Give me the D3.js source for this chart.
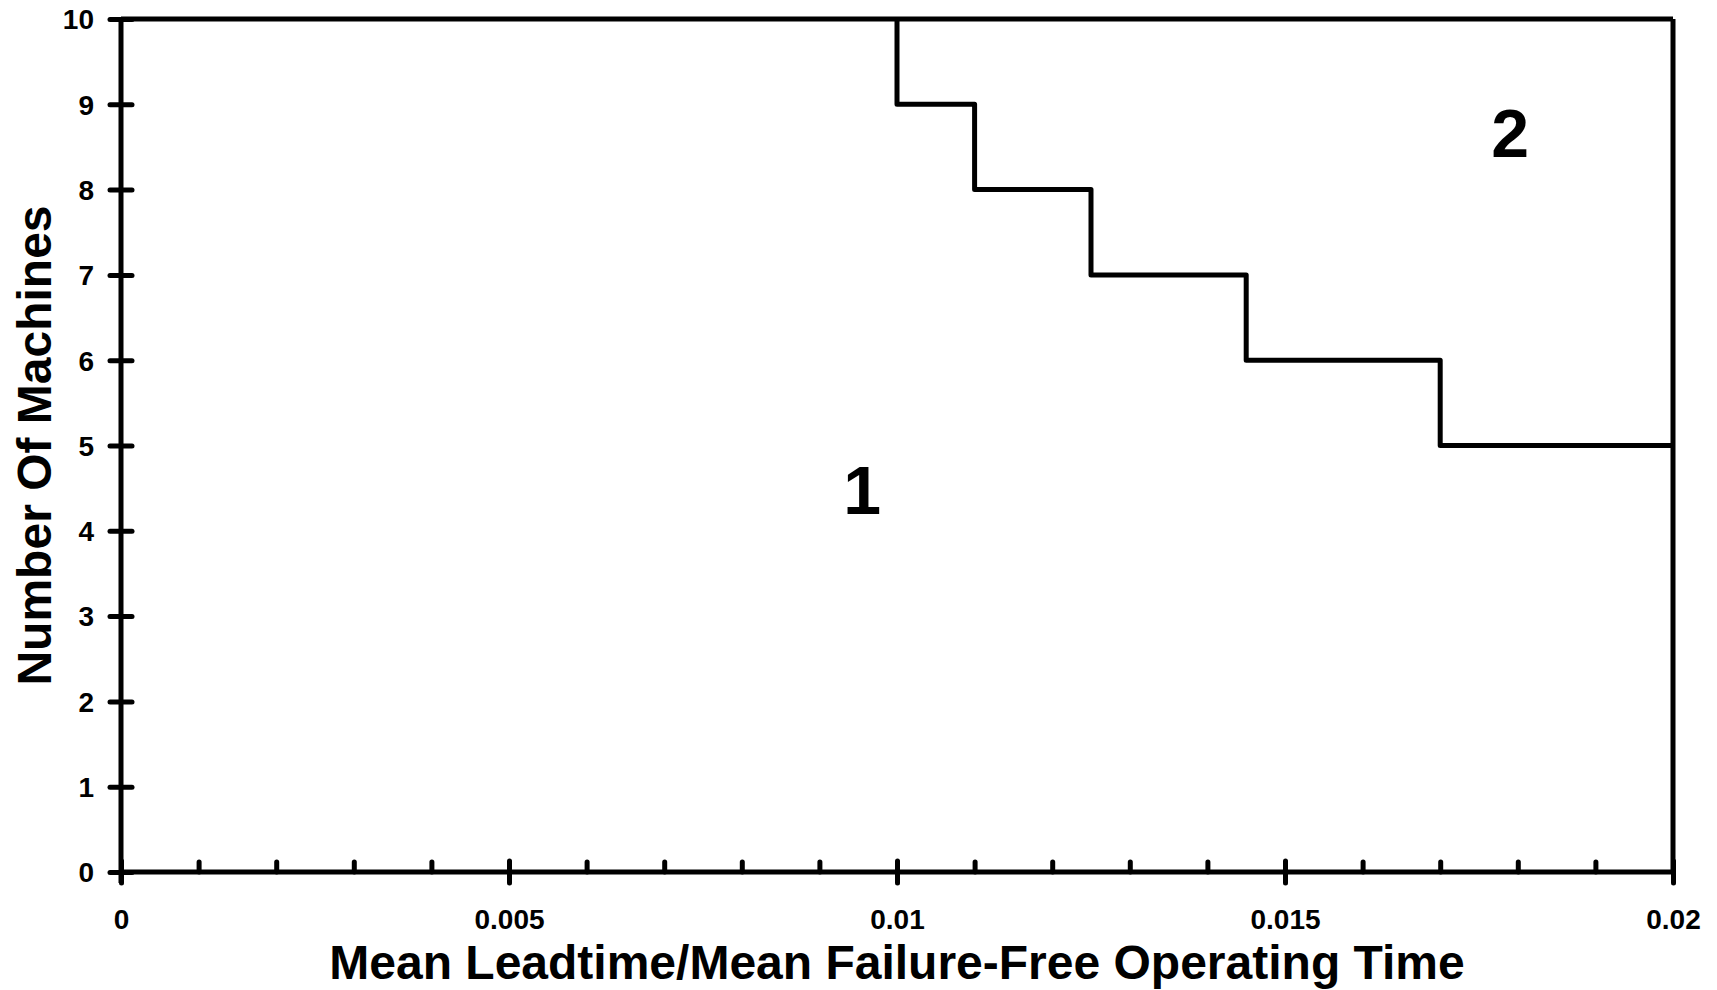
<!DOCTYPE html>
<html>
<head>
<meta charset="utf-8">
<script src="https://cdn.jsdelivr.net/npm/d3@7"></script>
<style>
  body { margin: 0; background: #fff; }
  text { font-family: "Liberation Sans", Arial, sans-serif; font-weight: bold; fill: #000; }
</style>
</head>
<body>
<div class="chart"></div>
<script>
// boundary between region 1 and region 2 (step line)
var boundaryX = [0.01, 0.011, 0.0125, 0.0145, 0.017, 0.02];
var boundaryY = [10, 9, 8, 7, 6, 5];

// tick values
var xMajorTicks = [0, 0.005, 0.01, 0.015, 0.02];
var xMinorTicks = [0.001, 0.002, 0.003, 0.004, 0.006, 0.007, 0.008, 0.009,
                   0.011, 0.012, 0.013, 0.014, 0.016, 0.017, 0.018, 0.019];
var yTicks = [0, 1, 2, 3, 4, 5, 6, 7, 8, 9, 10];

// region labels
var regionNames = ["1", "2"];
var regionX = [0.00955, 0.0179];
var regionY = [4.48, 8.67];

var svgWidth = 1717,
    svgHeight = 990,
    margin = {top: 19, right: 44, bottom: 118, left: 121},
    width = svgWidth - margin.left - margin.right,
    height = svgHeight - margin.top - margin.bottom;

var svg = d3.select(".chart")
    .append("svg")
    .attr("width", svgWidth)
    .attr("height", svgHeight)
    .append("g")
    .attr("transform", "translate(" + margin.left + "," + margin.top + ")");

var x = d3.scaleLinear().domain([0, 0.02]).range([0, width]);
var y = d3.scaleLinear().domain([0, 10]).range([height, 0]);

var lw = 5;

// frame: top and right edges
svg.append("line")
    .attr("x1", x(0)).attr("x2", x(0.02))
    .attr("y1", y(10)).attr("y2", y(10))
    .attr("stroke", "#000").attr("stroke-width", lw);
svg.append("line")
    .attr("x1", x(0.02)).attr("x2", x(0.02))
    .attr("y1", y(10)).attr("y2", y(0))
    .attr("stroke", "#000").attr("stroke-width", lw);

// minor x ticks (point up into plot)
var xMinor = svg.append("g")
    .attr("transform", "translate(0," + height + ")")
    .call(d3.axisBottom(x).tickValues(xMinorTicks).tickSize(-10).tickFormat(""));
xMinor.select(".domain").remove();
xMinor.selectAll(".tick text").remove();
xMinor.selectAll(".tick line")
    .attr("stroke-width", lw).attr("stroke-linecap", "round");

// major x axis
var xAx = svg.append("g")
    .attr("transform", "translate(0," + height + ")")
    .call(d3.axisBottom(x).tickValues(xMajorTicks).tickSize(11)
        .tickFormat(function(d) { return d === 0 ? "0" : String(+d.toFixed(3)); }));
xAx.select(".domain").remove();
xAx.append("line")
    .attr("x1", x(0)).attr("x2", x(0.02))
    .attr("stroke", "#000").attr("stroke-width", lw);
xAx.selectAll(".tick line")
    .attr("y1", -11).attr("y2", 11)
    .attr("stroke-width", lw).attr("stroke-linecap", "round");
xAx.selectAll(".tick text")
    .attr("y", 57).attr("dy", 0)
    .style("font-size", "28px");

// y axis
var yAx = svg.append("g")
    .call(d3.axisLeft(y).tickValues(yTicks).tickSize(11));
yAx.select(".domain").remove();
yAx.append("line")
    .attr("y1", y(0) + 11).attr("y2", y(10))
    .attr("stroke", "#000").attr("stroke-width", lw);
yAx.selectAll(".tick line")
    .attr("x1", -11).attr("x2", 11)
    .attr("stroke-width", lw).attr("stroke-linecap", "round");
yAx.selectAll(".tick text")
    .attr("x", -27).attr("dy", "0.35em")
    .style("font-size", "28px");

// step boundary
var step = d3.line()
    .curve(d3.curveStepBefore)
    .x(function(d) { return x(d[0]); })
    .y(function(d) { return y(d[1]); });

svg.append("path")
    .datum(d3.zip(boundaryX, boundaryY))
    .attr("d", step)
    .attr("fill", "none")
    .attr("stroke", "#000")
    .attr("stroke-width", lw)
    .attr("stroke-linejoin", "round");

// region labels
svg.selectAll(".region")
    .data(regionNames)
    .enter().append("text")
    .attr("class", "region")
    .attr("x", function(d, i) { return x(regionX[i]); })
    .attr("y", function(d, i) { return y(regionY[i]); })
    .attr("dy", "0.36em")
    .attr("text-anchor", "middle")
    .style("font-size", "68px")
    .text(function(d) { return d; });

// axis titles
svg.append("text")
    .attr("x", width / 2)
    .attr("y", height + 107)
    .attr("text-anchor", "middle")
    .style("font-size", "48px")
    .text("Mean Leadtime/Mean Failure-Free Operating Time");

svg.append("text")
    .attr("transform", "translate(" + (51 - margin.left) + "," + (height / 2) + ") rotate(-90)")
    .attr("text-anchor", "middle")
    .style("font-size", "48px")
    .text("Number Of Machines");
</script>
</body>
</html>
